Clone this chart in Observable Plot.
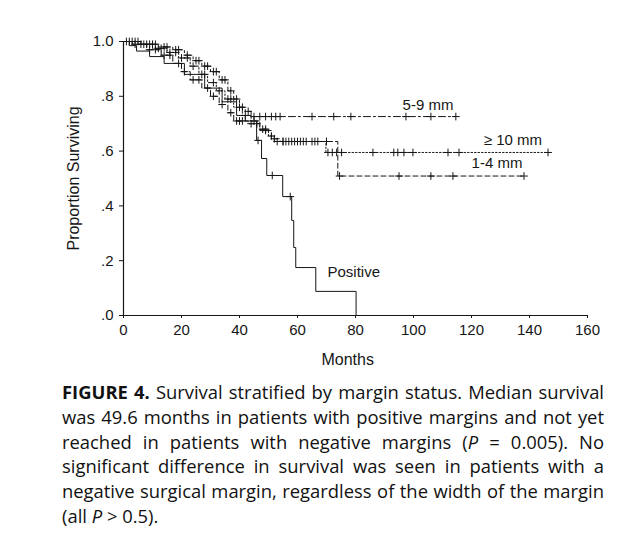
<!DOCTYPE html>
<html>
<head>
<meta charset="utf-8">
<script src="https://cdn.jsdelivr.net/npm/d3@7"></script>
<script src="https://cdn.jsdelivr.net/npm/@observablehq/plot@0.6"></script>
<style>
  html, body { margin: 0; padding: 0; background: #fff; }
  #chart svg { display: block; }
  #caption {
    margin: 0 0 0 62px;
    width: 542px;
    font-family: "Open Sans", "Noto Sans", sans-serif;
    font-size: 18.4px;
    line-height: 24.8px;
    color: #111;
  }
  #caption .ln { text-align: justify; text-align-last: justify; }
  #caption .ln.last { text-align: left; text-align-last: left; }
</style>
</head>
<body>
<div id="chart"></div>
<div id="caption">
  <div class="ln"><b>FIGURE 4.</b> Survival stratified by margin status. Median survival</div>
  <div class="ln">was 49.6 months in patients with positive margins and not yet</div>
  <div class="ln">reached in patients with negative margins (<i>P</i> = 0.005). No</div>
  <div class="ln">significant difference in survival was seen in patients with a</div>
  <div class="ln">negative surgical margin, regardless of the width of the margin</div>
  <div class="ln last">(all <i>P</i> &gt; 0.5).</div>
</div>
<script>
// ---- Data (months, proportion surviving) ----
const fiveNineT = [0, 6, 12, 17, 21, 24, 27, 30, 33, 36, 38, 40, 42, 44, 114.6];
const fiveNineS = [1.0, 0.99, 0.98, 0.97, 0.95, 0.93, 0.91, 0.89, 0.86, 0.82, 0.79, 0.76, 0.745, 0.726, 0.726];
const fiveNineCensor = [3, 5, 8, 10, 11, 14, 15, 18, 19, 22, 25, 26, 28, 29, 31, 32, 34, 35, 37, 39, 41, 43, 45, 47, 49, 51, 52.5, 54, 65, 72.5, 78.4, 97.4, 106, 114.6];

const tenPlusT = [0, 5, 10, 15, 19, 23, 26, 29, 32, 35, 38, 41, 44, 47, 50, 52, 69.8, 146.4];
const tenPlusS = [1.0, 0.99, 0.975, 0.96, 0.94, 0.91, 0.88, 0.85, 0.82, 0.79, 0.76, 0.73, 0.71, 0.68, 0.655, 0.635, 0.595, 0.595];
const tenPlusCensor = [2, 4, 7, 9, 12, 13, 16, 18, 20, 22, 24, 27, 28, 31, 33, 36, 37, 40, 42, 45, 48, 49, 51, 53, 55, 56, 57, 59, 60, 61, 63, 65, 67, 70.5, 72, 73.5, 75.2, 86, 93.2, 94.6, 96.7, 99.8, 111.9, 115.7, 146.4];

const oneFourT = [0, 3, 8, 13, 17, 20, 23, 27, 30, 33, 36, 38, 43, 47, 51, 54, 73.9, 138.1];
const oneFourS = [1.0, 0.99, 0.97, 0.95, 0.92, 0.89, 0.86, 0.83, 0.80, 0.77, 0.74, 0.71, 0.70, 0.675, 0.645, 0.635, 0.509, 0.509];
const oneFourCensor = [1, 4, 6, 9, 11, 14, 16, 19, 21, 24, 26, 29, 31, 34, 37, 39, 40, 41, 44, 46, 49, 52, 55, 58, 62, 66, 70, 74.5, 95, 106, 113.6, 138.1];

const positiveT = [0, 2, 4.5, 9, 14, 21, 28, 34, 39, 42, 45.9, 47.6, 49.4, 54.9, 58.0, 58.7, 59.4, 66.3, 80.2, 80.3];
const positiveS = [1.0, 0.985, 0.965, 0.945, 0.92, 0.88, 0.83, 0.78, 0.73, 0.71, 0.639, 0.573, 0.511, 0.434, 0.347, 0.248, 0.175, 0.088, 0.0, 0.0];
const positiveCensor = [46.4, 51.3, 57.5];

const xTicks = [0, 20, 40, 60, 80, 100, 120, 140, 160];
const yTicks = [0, 0.2, 0.4, 0.6, 0.8, 1.0];
const yTickLabels = [".0", ".2", ".4", ".6", ".8", "1.0"];

const groupNames = ["5-9 mm", "\u2265 10 mm", "1-4 mm", "Positive"];
const labelT = [105, 134.3, 128.8, 79.4];
const labelS = [0.766, 0.639, 0.555, 0.157];

// ---- Build tables ----
function curve(T, S) { return T.map((t, i) => ({t, s: S[i]})); }
function survAt(T, S, t) {
  let v = S[0];
  for (let i = 0; i < T.length; i++) { if (T[i] <= t) v = S[i]; }
  return v;
}
function censors(C, T, S) { return C.map(t => ({t, s: survAt(T, S, t)})); }

const c59 = curve(fiveNineT, fiveNineS);
const c10 = curve(tenPlusT, tenPlusS);
const c14 = curve(oneFourT, oneFourS);
const cPos = curve(positiveT, positiveS);
const allCensors = [
  ...censors(fiveNineCensor, fiveNineT, fiveNineS),
  ...censors(tenPlusCensor, tenPlusT, tenPlusS),
  ...censors(oneFourCensor, oneFourT, oneFourS),
  ...censors(positiveCensor, positiveT, positiveS)
];
const labels = groupNames.map((name, i) => ({name, t: labelT[i], s: labelS[i]}));

const ink = "#161616";
const font = "'Liberation Sans', Arial, sans-serif";

const chart = Plot.plot({
  width: 640,
  height: 380,
  marginLeft: 123,
  marginRight: 53,
  marginTop: 41,
  marginBottom: 65,
  style: {fontFamily: font, fontSize: "15px", color: ink, background: "#fff"},
  x: {domain: [0, 160], ticks: xTicks, tickSize: 3, tickPadding: 6, label: null},
  y: {domain: [0, 1], ticks: yTicks, tickSize: 4, tickPadding: 6, label: null,
      tickFormat: d => yTickLabels[yTicks.findIndex(v => Math.abs(v - d) < 1e-9)]},
  marks: [
    Plot.ruleX([0], {stroke: ink, strokeWidth: 1.2}),
    Plot.ruleY([0], {stroke: ink, strokeWidth: 1.2}),
    Plot.line(c59, {x: "t", y: "s", curve: "step-after", stroke: ink, strokeWidth: 1, strokeDasharray: "7,3,2,3"}),
    Plot.line(c10, {x: "t", y: "s", curve: "step-after", stroke: ink, strokeWidth: 1, strokeDasharray: "1.5,2"}),
    Plot.line(c14, {x: "t", y: "s", curve: "step-after", stroke: ink, strokeWidth: 1, strokeDasharray: "5,3"}),
    Plot.line(cPos, {x: "t", y: "s", curve: "step-after", stroke: ink, strokeWidth: 1}),
    Plot.dot(allCensors, {x: "t", y: "s", symbol: "plus", r: 2.6, stroke: ink, strokeWidth: 1}),
    Plot.text(labels, {x: "t", y: "s", text: "name", fontSize: 15, fill: ink}),
    Plot.text(["Months"], {x: [77.3], frameAnchor: "bottom", dy: 49, fontSize: 16, fill: ink}),
    Plot.text(["Proportion Surviving"], {x: [0], y: [0.5], dx: -50, rotate: -90, fontSize: 16, fill: ink})
  ]
});
document.getElementById("chart").appendChild(chart);
</script>
</body>
</html>
